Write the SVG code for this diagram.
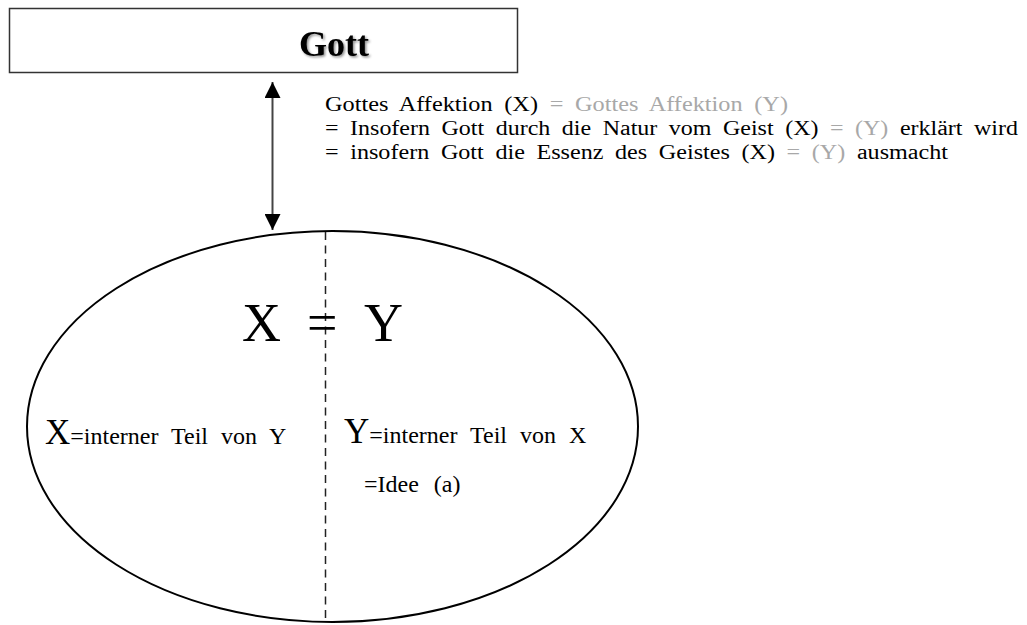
<svg xmlns="http://www.w3.org/2000/svg" width="1027" height="625" viewBox="0 0 1027 625">
<style>
text{font-family:"Liberation Serif","Times New Roman",serif;fill:#000}
.note{font-size:21.6px;word-spacing:5px}
.grey{fill:#a8a8a8}
.lbl{font-size:24px;word-spacing:7px}
.big{font-size:35px}
</style>
<defs>
<marker id="ah" viewBox="0 0 10 10" refX="10" refY="5" markerWidth="16" markerHeight="16" markerUnits="userSpaceOnUse" orient="auto-start-reverse">
<path d="M0,0 L10,5 L0,10 Z" fill="#000"/>
</marker>
<filter id="sh" x="-10%" y="-10%" width="130%" height="140%">
<feDropShadow dx="1.5" dy="1.5" stdDeviation="1" flood-color="#000" flood-opacity="0.45"/>
</filter>
</defs>
<g id="gott">
<rect x="9.5" y="8.5" width="508" height="64" fill="#fff" stroke="#333" stroke-width="1.5"/>
<text x="334" y="56" text-anchor="middle" font-size="36" font-weight="bold" filter="url(#sh)">Gott</text>
</g>
<g id="connectors">
<line x1="272.5" y1="82" x2="272.5" y2="230" stroke="#444" stroke-width="2" marker-start="url(#ah)" marker-end="url(#ah)"/>
</g>
<g id="note">
<text class="note" x="325" y="111" textLength="463" lengthAdjust="spacingAndGlyphs">Gottes Affektion (X) <tspan class="grey">= Gottes Affektion (Y)</tspan></text>
<text class="note" x="325" y="135" textLength="693" lengthAdjust="spacingAndGlyphs">= Insofern Gott durch die Natur vom Geist (X) <tspan class="grey">= (Y)</tspan> erklärt wird</text>
<text class="note" x="325" y="159" textLength="623" lengthAdjust="spacingAndGlyphs">= insofern Gott die Essenz des Geistes (X) <tspan class="grey">= (Y)</tspan> ausmacht</text>
</g>
<g id="mind">
<ellipse cx="332.5" cy="426.5" rx="305.5" ry="195.5" fill="#fff" stroke="#000" stroke-width="2"/>
<line x1="325.5" y1="232" x2="325.5" y2="622" stroke="#222" stroke-width="1.5" stroke-dasharray="8 5.5"/>
<text font-size="54" y="341"><tspan x="242">X</tspan><tspan x="307">=</tspan><tspan x="364">Y</tspan></text>
<text class="lbl" x="45" y="444"><tspan class="big">X</tspan>=interner Teil von Y</text>
<text class="lbl" x="344" y="443"><tspan class="big">Y</tspan>=interner Teil von X</text>
<text class="lbl" x="364" y="492" style="word-spacing:9px">=Idee (a)</text>
</g>
</svg>
